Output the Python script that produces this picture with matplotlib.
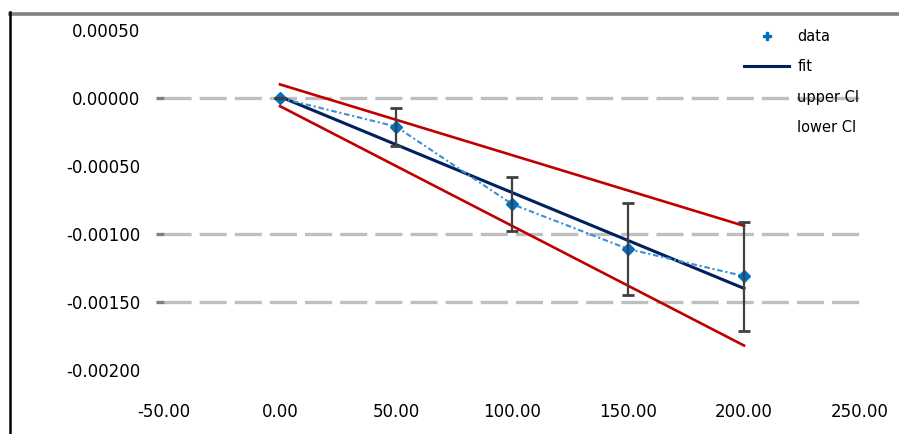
import matplotlib
matplotlib.use("Agg")
import matplotlib.pyplot as plt
from matplotlib.lines import Line2D
from matplotlib.ticker import FuncFormatter, MultipleLocator

# Measured series
x_data = [0, 50, 100, 150, 200]
y_data = [0.0, -0.00021, -0.00078, -0.00111, -0.00131]
y_err = [0.0, 0.00014, 0.00020, 0.00034, 0.00040]

# Linear fit and its upper / lower bounds, evaluated at the range ends
x_line = [0, 200]
y_fit = [0.00001, -0.00140]
y_upper = [0.00010, -0.00094]
y_lower = [-0.00006, -0.00182]

# Horizontal reference lines
grid_levels = [0.0, -0.0010, -0.0015]

legend_labels = ["data", "fit", "upper CI", "lower CI"]

plt.rcParams["font.family"] = ["DejaVu Sans"]
plt.rcParams["lines.scale_dashes"] = False

W, H = 899, 434
fig = plt.figure(figsize=(W / 100, H / 100), dpi=100)
ax = fig.add_axes([164 / W, 1 - 370 / H, (860 - 164) / W, (370 - 30) / H])

for g in grid_levels:
    ax.axhline(g, color="#BFBFBF", lw=2.4, linestyle=(0, (19.5, 5.8)), zorder=1)
    ax.plot([-0.012, 0.0], [g, g], transform=ax.get_yaxis_transform(),
            color="#808080", lw=2.4, clip_on=False, zorder=1, solid_capstyle="butt")

red = "#C00000"
navy = "#002060"
blue = "#0070C0"
light_blue = "#3A8FD6"

ax.plot(x_line, y_upper, color=red, lw=1.9, zorder=2)
ax.plot(x_line, y_lower, color=red, lw=1.9, zorder=2)
ax.plot(x_line, y_fit, color=navy, lw=2.2, zorder=3)
ax.plot(x_data, y_data, color=light_blue, lw=1.5, linestyle=(0, (4, 2, 1.5, 2)),
        marker="D", markersize=6, markerfacecolor=blue, markeredgecolor=blue, zorder=4)
ax.errorbar(x_data, y_data, yerr=y_err, fmt="none", ecolor="#404040",
            elinewidth=1.6, capsize=4.3, capthick=2, zorder=5)

ax.set_xlim(-50, 250)
ax.set_ylim(-0.0020, 0.0005)
ax.xaxis.set_major_locator(MultipleLocator(50))
ax.yaxis.set_major_locator(MultipleLocator(0.0005))
ax.xaxis.set_major_formatter(FuncFormatter(lambda v, p: f"{v:.2f}"))


def yfmt(v, p):
    s = f"{v:.5f}"
    return "0.00000" if s == "-0.00000" else s


ax.yaxis.set_major_formatter(FuncFormatter(yfmt))
ax.tick_params(axis="y", length=0, pad=17, labelsize=12, colors="black")
ax.tick_params(axis="x", length=0, pad=24, labelsize=12, colors="black")
for s in ax.spines.values():
    s.set_visible(False)

handles = [
    Line2D([], [], color=blue, marker="P", markersize=6, linestyle="none"),
    Line2D([], [], color=navy, lw=2.2),
    Line2D([], [], color="none"),
    Line2D([], [], color="none"),
]
fig.legend(handles, legend_labels, loc="upper left",
           bbox_to_anchor=(744 / W, 1 - 29 / H), frameon=False,
           fontsize=10.5, handlelength=3.1, handletextpad=0.55,
           labelspacing=1.05, borderpad=0, borderaxespad=0)

# Chart border fragments
fig.add_artist(Line2D([10 / W, 1.0], [1 - 13.5 / H, 1 - 13.5 / H],
                      color="#808080", lw=2.6, transform=fig.transFigure))
fig.add_artist(Line2D([10 / W, 10 / W], [0.0, 1 - 12 / H],
                      color="black", lw=1.8, transform=fig.transFigure))

fig.savefig("out.png", dpi=100)
